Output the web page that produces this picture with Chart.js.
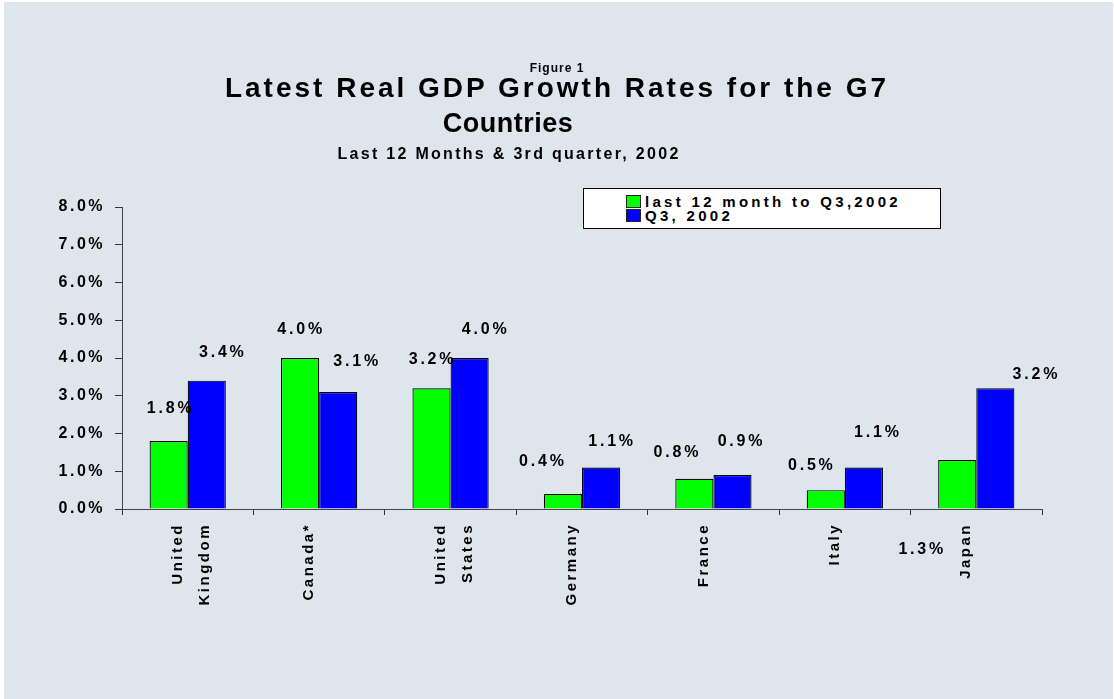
<!DOCTYPE html>
<html>
<head>
<meta charset="utf-8">
<title>Latest Real GDP Growth Rates for the G7 Countries</title>
<script src="https://cdn.jsdelivr.net/npm/chart.js@4"></script>
<style>
  html, body { margin: 0; padding: 0; background: #fff; }
  body { position: relative; width: 1114px; height: 699px; overflow: hidden;
         font-family: "Liberation Sans", Arial, sans-serif; font-weight: bold; color: #000; }
  #frame { position: absolute; left: 4px; top: 2px; width: 1109px; height: 697px; background: #dfe5ec; }
  #gdpChart { position: absolute; left: 0; top: 0; }
  .caption { position: absolute; white-space: nowrap; transform: translateX(-50%); line-height: 1; }
  #figNo    { left: 557px; top: 62px; font-size: 12px; letter-spacing: 1px; }
  #title1   { left: 557px; top: 74px; font-size: 28px; letter-spacing: 3px; }
  #title2   { left: 508px; top: 110px; font-size: 27px; letter-spacing: 0.5px; }
  #subtitle { left: 509px; top: 146px; font-size: 16px; letter-spacing: 2.3px; }
  #legend { position: absolute; left: 583px; top: 188px; width: 356px; height: 39px;
            background: #fff; border: 1px solid #000; box-sizing: content-box; }
  #legend .item { position: absolute; left: 42px; height: 14px; line-height: 14px;
                  font-size: 15px; letter-spacing: 3.3px; white-space: nowrap; }
  #legend .swatch { display: inline-block; width: 15px; height: 13px; border: 1px solid #222;
                    vertical-align: top; margin-right: 4px; box-sizing: border-box; }
</style>
</head>
<body>
<div id="frame"></div>
<canvas id="gdpChart" width="1114" height="699"></canvas>
<div class="caption" id="figNo">Figure 1</div>
<div class="caption" id="title1">Latest Real GDP Growth Rates for the G7</div>
<div class="caption" id="title2">Countries</div>
<div class="caption" id="subtitle">Last 12 Months &amp; 3rd quarter, 2002</div>
<div id="legend"></div>
<script>
// --- data ---
const countries = [["United", "Kingdom"], "Canada*", ["United", "States"], "Germany", "France", "Italy", "Japan"];
const last12Months = [1.8, 4.0, 3.2, 0.4, 0.8, 0.5, 1.3];
const q3Growth = [3.4, 3.1, 4.0, 1.1, 0.9, 1.1, 3.2];
const seriesNames = ["last 12 month to Q3,2002", "Q3, 2002"];
const seriesColors = ["#00ff00", "#0000ff"];
const yMin = 0, yMax = 8, yStep = 1;

// value labels sit where they were dragged to: [dx, dy] from each bar's top centre
const labelNudge = [
  [[1, -32], [0, -28], [0, -29], [-21, -32], [-18, -26], [-15, -25], [-36, 90]],
  [[15, -28], [18, -30], [15, -28], [10, -26], [8, -33], [13, -35], [40, -14]]
];

const FONT = "'Liberation Sans', Arial, sans-serif";

// spaced-out lettering for everything the canvas writes
const spacingPlugin = {
  id: "spacing",
  beforeDraw(chart) { chart.ctx.letterSpacing = "2.5px"; }
};

const valueLabels = {
  id: "valueLabels",
  afterDatasetsDraw(chart) {
    const ctx = chart.ctx;
    ctx.save();
    ctx.font = "bold 16px " + FONT;
    ctx.letterSpacing = "2.8px";
    ctx.fillStyle = "#000";
    ctx.textAlign = "center";
    ctx.textBaseline = "middle";
    chart.data.datasets.forEach((ds, di) => {
      chart.getDatasetMeta(di).data.forEach((bar, i) => {
        const [dx, dy] = labelNudge[di][i];
        ctx.fillText(ds.data[i].toFixed(1) + "%", bar.x + dx + 1, bar.y + dy);
      });
    });
    ctx.restore();
  }
};

const ctx = document.getElementById("gdpChart").getContext("2d");
const chart = new Chart(ctx, {
  type: "bar",
  data: {
    labels: countries,
    datasets: [
      { label: seriesNames[0], data: last12Months, backgroundColor: seriesColors[0] },
      { label: seriesNames[1], data: q3Growth, backgroundColor: seriesColors[1] }
    ]
  },
  options: {
    responsive: false,
    animation: false,
    layout: { padding: { left: 0, right: 72, top: 207, bottom: 70 } },
    datasets: {
      bar: { borderColor: "#000", borderWidth: 1.2, categoryPercentage: 0.58, barPercentage: 1 }
    },
    plugins: {
      legend: { display: false },
      title: { display: false },
      tooltip: { enabled: false }
    },
    scales: {
      x: {
        afterFit: (s) => { s.height = 120; },
        grid: { drawOnChartArea: false, drawTicks: true, tickLength: 6, color: "#333", offset: true },
        border: { color: "#444", width: 1 },
        ticks: {
          autoSkip: false, minRotation: 90, maxRotation: 90, padding: 8, labelOffset: -10,
          color: "#000", font: { family: FONT, size: 15, weight: "bold", lineHeight: 1.8 }
        }
      },
      y: {
        min: yMin, max: yMax,
        afterFit: (s) => { s.width = 122; },
        grid: { drawOnChartArea: false, drawTicks: true, tickLength: 7, color: "#333" },
        border: { color: "#444", width: 1 },
        ticks: {
          stepSize: yStep, padding: 10, color: "#000",
          font: { family: FONT, size: 16, weight: "bold" },
          callback: (v) => v.toFixed(1) + "%"
        }
      }
    }
  },
  plugins: [spacingPlugin, valueLabels]
});

// boxed legend built from the datasets
const legend = document.getElementById("legend");
chart.data.datasets.forEach((ds, i) => {
  const item = document.createElement("div");
  item.className = "item";
  item.style.top = (6 + i * 14) + "px";
  const sw = document.createElement("span");
  sw.className = "swatch";
  sw.style.background = ds.backgroundColor;
  item.appendChild(sw);
  item.appendChild(document.createTextNode(ds.label));
  legend.appendChild(item);
});
</script>
</body>
</html>
